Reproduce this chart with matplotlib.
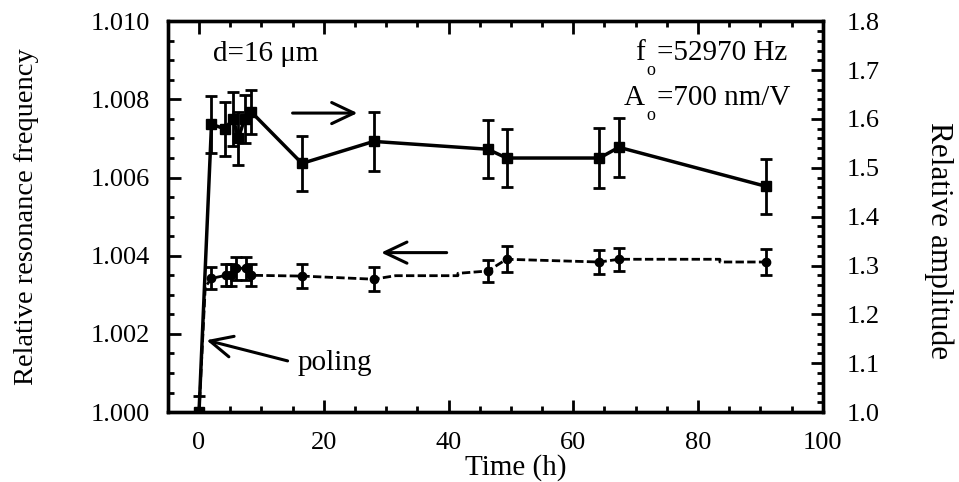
import numpy as np
import matplotlib
matplotlib.use("Agg")
import matplotlib.pyplot as plt
from matplotlib.ticker import MultipleLocator, FormatStrFormatter

plt.rcParams['font.family'] = ['Liberation Serif', 'DejaVu Serif']

# relative amplitude (right axis, squares, solid)
amp_t = [0.0, 2.0, 4.1, 5.5, 6.3, 7.3, 8.4, 16.5, 28.0, 46.3, 49.3, 64.2, 67.3, 90.9]
amp_v = [1.000, 1.589, 1.580, 1.600, 1.560, 1.600, 1.614, 1.509, 1.554, 1.538, 1.520, 1.520, 1.542, 1.462]
amp_err = [0.0, 0.058, 0.055, 0.055, 0.055, 0.050, 0.045, 0.057, 0.061, 0.059, 0.060, 0.062, 0.060, 0.057]

# relative resonance frequency (left axis, circles)
frq_t = [0.0, 2.0, 4.3, 5.2, 6.0, 7.6, 8.4, 16.5, 28.0, 46.3, 49.3, 64.2, 67.3, 90.9]
frq_v = [1.0000, 1.00342, 1.00350, 1.00350, 1.00368, 1.00368, 1.00350, 1.00348,
         1.00340, 1.00361, 1.00391, 1.00384, 1.00391, 1.00384]
frq_err = [0.0004, 0.00028, 0.00028, 0.00028, 0.00030, 0.00030, 0.00028, 0.00030,
           0.00030, 0.00029, 0.00033, 0.00030, 0.00030, 0.00033]

# dashed smoothed curve through the frequency data
curve_t = [0.0, 1.0, 2.0, 4.3, 5.2, 6.0, 7.6, 8.4, 16.5, 28.0, 31.5, 41.5, 41.5, 46.3,
           49.3, 64.2, 67.3, 83.5, 83.5, 90.9]
curve_v = [1.0000, 1.0032, 1.00342, 1.00350, 1.00350, 1.00368, 1.00368, 1.00350, 1.00348,
           1.00340, 1.00349, 1.00349, 1.00355, 1.00361, 1.00391, 1.00384, 1.00391,
           1.00391, 1.00384, 1.00384]

fig = plt.figure(figsize=(9.59, 4.82), dpi=100)
ax = fig.add_axes([0.175, 0.145, 0.683, 0.811])
ax2 = ax.twinx()

ax.plot(curve_t, curve_v, color='black', lw=2.0, ls=(0, (3.0, 1.2)))
ax.errorbar(frq_t, frq_v, yerr=frq_err, fmt='o', color='black', ms=6,
            elinewidth=2, capsize=4.5, capthick=2)

ax2.errorbar(amp_t, amp_v, yerr=amp_err, fmt='s-', color='black', ms=6.5, lw=2.5,
             elinewidth=2, capsize=4.5, capthick=2)

ax.set_xlim(-5, 100)
ax.set_ylim(1.000, 1.010)
ax2.set_ylim(1.0, 1.8)

ax.xaxis.set_major_locator(MultipleLocator(20))
ax.xaxis.set_minor_locator(MultipleLocator(5))
ax.yaxis.set_major_locator(MultipleLocator(0.002))
ax.yaxis.set_minor_locator(MultipleLocator(0.0005))
ax2.yaxis.set_major_locator(MultipleLocator(0.1))
ax2.yaxis.set_minor_locator(MultipleLocator(0.02))
ax.yaxis.set_major_formatter(FormatStrFormatter('%.3f'))
ax2.yaxis.set_major_formatter(FormatStrFormatter('%.1f'))

ax.tick_params(which='both', direction='in', top=True, width=2, labelsize=19)
ax.tick_params(which='major', length=9)
ax.tick_params(which='minor', length=4.5)
ax.tick_params(axis='x', which='major', pad=14)
ax.tick_params(axis='y', which='major', pad=13)
ax2.tick_params(which='both', direction='in', width=2, labelsize=19)
ax2.tick_params(which='major', length=9, pad=17)
ax2.tick_params(which='minor', length=4.5)
for a in (ax, ax2):
    for s in a.spines.values():
        s.set_linewidth(2.4)

ax.set_xlabel('Time (h)', fontsize=21)
ax.xaxis.set_label_coords(0.531, -0.141)
ax.xaxis.label.set_va('center')
ax.set_ylabel('Relative resonance frequency', fontsize=20.5)
ax.yaxis.set_label_coords(-0.216, 0.5)
ax.yaxis.label.set_va('center')
ax2.set_ylabel('Relative amplitude', fontsize=22.5, rotation=270)
ax2.yaxis.set_label_coords(1.177, 0.44)
ax2.yaxis.label.set_va('center')

tr = ax.transAxes
ax.text(0.069, 0.898, 'd=16 μm', transform=tr, fontsize=21, va='baseline')
ax.text(0.7282, 0.900, 'f', transform=tr, fontsize=21, va='baseline', ha='right')
ax.text(0.7374, 0.862, 'o', transform=tr, fontsize=13, va='baseline', ha='center')
ax.text(0.7466, 0.900, '=52970 Hz', transform=tr, fontsize=21, va='baseline')
ax.text(0.7282, 0.785, 'A', transform=tr, fontsize=21, va='baseline', ha='right')
ax.text(0.7374, 0.747, 'o', transform=tr, fontsize=13, va='baseline', ha='center')
ax.text(0.7466, 0.785, '=700 nm/V', transform=tr, fontsize=21, va='baseline')

arr = dict(arrowstyle='->,head_length=0.8,head_width=0.38', lw=2.2, color='black',
           mutation_scale=20, shrinkA=0, shrinkB=0)
ax2.annotate('', xy=(25.4, 1.612), xytext=(15.0, 1.612), arrowprops=arr)
ax.annotate('', xy=(29.2, 1.00408), xytext=(39.7, 1.00408), arrowprops=arr)
ax.annotate('', xy=(1.2, 1.00184), xytext=(14.2, 1.00131), arrowprops=arr)
ax.text(15.85, 1.00108, 'poling', fontsize=21, va='baseline', ha='left')

fig.savefig('out.png', dpi=100)
